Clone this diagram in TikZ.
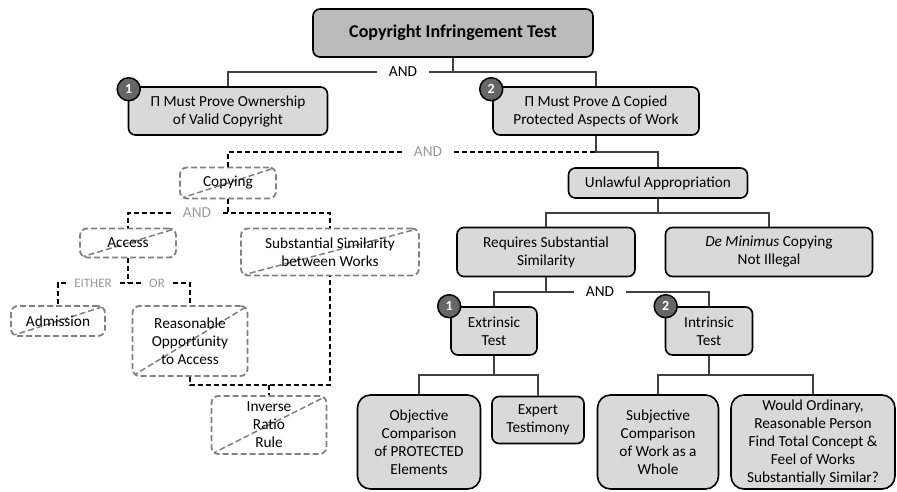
\documentclass[tikz,border=0pt]{standalone}
\usepackage[dvipsnames,svgnames,table]{xcolor}
\usepackage{fontspec}
\setmainfont{Carlito}
\usepackage{tikz}
\usetikzlibrary{arrows.meta, positioning, calc}

\begin{document}
\begin{tikzpicture}[
  x=1pt, y=-1pt,
  every node/.style={font=\fontsize{15.3}{18}\selectfont},
  solidbox/.style={rectangle, draw=black, line width=1.6pt, rounded corners=7pt,
                   fill=black!15, align=center, inner sep=0pt},
  bigbox/.style={solidbox, rounded corners=13pt},
  dashbox/.style={rectangle, draw=black!50, line width=1.8pt, rounded corners=7pt,
                  dash pattern=on 6pt off 3pt, fill=white, align=center, inner sep=0pt,
                  path picture={\draw[black!50, line width=1.5pt, dash pattern=on 6pt off 3pt]
                    (path picture bounding box.south west) -- (path picture bounding box.north east);}},
  badge/.style={circle, draw=black, line width=1.5pt, fill=black!60, text=white,
                minimum size=23pt, inner sep=0pt, font=\fontsize{14}{14}\selectfont\bfseries},
  andlbl/.style={fill=white, inner xsep=12pt, inner ysep=1pt},
  grylbl/.style={andlbl, text=black!40},
  link/.style={draw=black!75, line width=1.1pt},
  dlink/.style={draw=black, line width=1.2pt, dash pattern=on 5pt off 3pt},
]
\useasboundingbox (0,0) rectangle (897,491);

% Top
\node[solidbox, fill=black!27, minimum width=280pt, minimum height=48pt,
      font=\fontsize{18}{20}\selectfont\bfseries] (title) at (453,33) {Copyright Infringement Test};

% Two elements
\node[andlbl] (and1) at (403,72) {AND};
\node[solidbox, minimum width=199pt, minimum height=48pt] (own) at (228,111) {Π Must Prove Ownership\\of Valid Copyright};
\node[solidbox, minimum width=206pt, minimum height=48pt] (prove) at (596,111) {Π Must Prove Δ Copied\\Protected Aspects of Work};
\draw[link] (title.south) -- (title.south |- and1);
\draw[link] (and1.west) -| (own.north);
\draw[link] (and1.east) -| (prove.north);
\node[badge] (b1) at ([shift={(1,3)}]own.north west) {1};
\node[badge] (b2) at ([shift={(-1,3)}]prove.north west) {2};

% Copying branch (dashed)
\node[grylbl] (and2) at (428,152) {AND};
\coordinate (j2) at (prove.south |- and2);
\node[dashbox, minimum width=96pt, minimum height=31pt] (copying) at (228,183) {Copying};
\draw[dlink] (and2.west) -| (copying.north);
\draw[dlink] (and2.east) -- (j2);

\node[grylbl] (and4) at (197,213) {AND};
\node[dashbox, minimum width=96pt, minimum height=29pt] (access) at (128,243) {Access};
\node[dashbox, minimum width=178pt, minimum height=47pt] (subsim) at (330,252) {Substantial Similarity\\between Works};
\draw[dlink] (copying.south) -- (copying.south |- and4);
\draw[dlink] (and4.west) -| (access.north);
\draw[dlink] (and4.east) -| (subsim.north);

\node[grylbl, inner xsep=8pt, font=\fontsize{13}{15}\selectfont] (either) at (93,283) {EITHER};
\node[grylbl, inner xsep=8pt, font=\fontsize{13}{15}\selectfont] (or) at (157,283) {OR};
\node[dashbox, minimum width=94pt, minimum height=30pt] (admission) at (58,321) {Admission};
\node[dashbox, minimum width=115pt, minimum height=70pt] (reasonable) at (190,341) {Reasonable\\Opportunity\\to Access};
\draw[dlink] (access.south) -- (access.south |- either);
\draw[dlink] (either.west) -| (admission.north);
\draw[dlink] (either.east) -- (or.west);
\draw[dlink] (or.east) -| (reasonable.north);

\coordinate (j6) at (269,385);
\node[dashbox, minimum width=115pt, minimum height=58pt] (inverse) at (269,425) {Inverse\\Ratio\\Rule};
\draw[dlink] (reasonable.south) |- (j6) -| (subsim.south);
\draw[dlink] (j6) -- (inverse.north);

% Unlawful appropriation branch
\node[solidbox, minimum width=179pt, minimum height=30pt] (unlawful) at (658,183) {Unlawful Appropriation};
\draw[link] (prove.south) -- (j2) -| (unlawful.north);

\coordinate (j3) at (658,213);
\node[solidbox, minimum width=178pt, minimum height=49pt] (req) at (546,252) {Requires Substantial\\Similarity};
\node[solidbox, minimum width=207pt, minimum height=49pt] (demin) at (769,252) {\textit{De Minimus} Copying\\Not Illegal};
\draw[link] (unlawful.south) -- (j3);
\draw[link] (req.north) |- (j3) -| (demin.north);

% Two tests
\node[andlbl] (and3) at (600,292) {AND};
\node[solidbox, minimum width=86pt, minimum height=48pt] (extr) at (494,331) {Extrinsic\\Test};
\node[solidbox, minimum width=87pt, minimum height=48pt] (intr) at (709,331) {Intrinsic\\Test};
\draw[link] (req.south) -- (req.south |- and3);
\draw[link] (and3.west) -| (extr.north);
\draw[link] (and3.east) -| (intr.north);
\node[badge] (b3) at ([shift={(-1,0)}]extr.north west) {1};
\node[badge] (b4) at ([shift={(1,0)}]intr.north west) {2};

% Extrinsic test
\coordinate (j4) at (494,375);
\node[bigbox, minimum width=123pt, minimum height=94pt] (obj) at (419,442) {Objective\\Comparison\\of PROTECTED\\Elements};
\node[solidbox, minimum width=92pt, minimum height=47pt] (expert) at (538,420) {Expert\\Testimony};
\draw[link] (extr.south) -- (j4);
\draw[link] (obj.north) |- (j4) -| (expert.north);

% Intrinsic test
\coordinate (j5) at (709,375);
\node[bigbox, minimum width=121pt, minimum height=94pt] (subj) at (658,442) {Subjective\\Comparison\\of Work as a\\Whole};
\node[bigbox, minimum width=164pt, minimum height=94pt] (would) at (813,442) {Would Ordinary,\\Reasonable Person\\Find Total Concept \&\\Feel of Works\\Substantially Similar?};
\draw[link] (intr.south) -- (j5);
\draw[link] (subj.north) |- (j5) -| (would.north);

\end{tikzpicture}
\end{document}
